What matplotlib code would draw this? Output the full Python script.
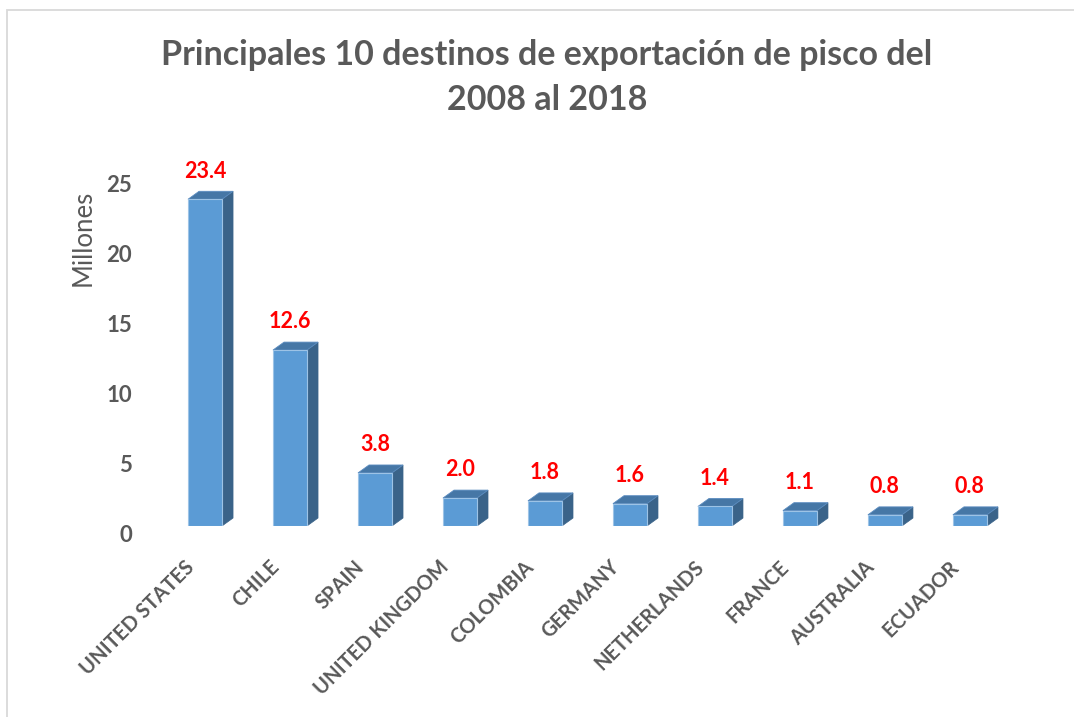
import matplotlib
matplotlib.use("Agg")
import matplotlib.pyplot as plt
from matplotlib.patches import Polygon, Rectangle
from matplotlib.transforms import ScaledTranslation

countries = ["UNITED STATES", "CHILE", "SPAIN", "UNITED KINGDOM", "COLOMBIA",
             "GERMANY", "NETHERLANDS", "FRANCE", "AUSTRALIA", "ECUADOR"]
values = [23.4, 12.6, 3.8, 2.0, 1.8, 1.6, 1.4, 1.1, 0.8, 0.8]
yticks = [0, 5, 10, 15, 20, 25]
title_lines = ["Principales 10 destinos de exportación de pisco del", "2008 al 2018"]

plt.rcParams['font.family'] = ['Lato', 'DejaVu Sans']
GRAY = "#595959"
FRONT = "#5B9BD5"
SIDE = "#3A6389"
TOP = "#4677A6"

fig = plt.figure(figsize=(10.74, 7.17), dpi=100)
W, H = 1074, 717
ax_left, ax_right = 135, 1060
ax_top, ax_bot = 149, 526
ax = fig.add_axes([ax_left / W, 1 - ax_bot / H, (ax_right - ax_left) / W, (ax_bot - ax_top) / H])

# chart frame (light gray)
fig.patches.append(Rectangle((7 / W, -0.1), 1.2, 1 - 10 / H + 0.1, transform=fig.transFigure,
                             fill=False, edgecolor="#D9D9D9", linewidth=1.3))

x = list(range(len(values)))
bw = 0.4
dx, dy = 0.13, 0.57
ax.bar(x, values, width=bw, color=FRONT, edgecolor="#9DC3E6", linewidth=0.8, zorder=3)
for xi, v in zip(x, values):
    l, r = xi - bw / 2, xi + bw / 2
    side = Polygon([(r, 0), (r + dx, dy), (r + dx, v + dy), (r, v)], closed=True,
                   facecolor=SIDE, edgecolor=SIDE, linewidth=0.5, zorder=2)
    top = Polygon([(l, v), (l + dx, v + dy), (r + dx, v + dy), (r, v)], closed=True,
                  facecolor=TOP, edgecolor="#5B8CC0", linewidth=0.6, zorder=2)
    ax.add_patch(side)
    ax.add_patch(top)
    ax.annotate(f"{v:.1f}", (xi, v + dy), xytext=(0, 7), textcoords="offset points",
                ha="center", va="bottom", color="#FF0000", fontsize=15.5, fontweight="bold")

ax.set_xlim(-(205 - ax_left) / 85, 10.06)
ax.set_ylim(0, 27)
ax.set_xticks([])
ax.set_yticks(yticks)
ax.set_yticklabels([])
ax.tick_params(axis="y", length=0)
for s in ax.spines.values():
    s.set_visible(False)

# y tick labels (slightly below their gridline position, as in the 3-D original)
ytr = ax.get_yaxis_transform() + ScaledTranslation(-3 / 100, -7 / 100, fig.dpi_scale_trans)
for t in yticks:
    ax.text(0, t, str(t), transform=ytr, ha="right", va="center_baseline",
            fontsize=16, fontweight="bold", color=GRAY)

lab_off = ScaledTranslation(-14 / 100, -38 / 100, fig.dpi_scale_trans)
for xi, c in zip(x, countries):
    ax.text(xi, 0, c, transform=ax.get_xaxis_transform() + lab_off, rotation=45,
            rotation_mode="anchor", ha="right", va="center", fontsize=14.5,
            fontweight="bold", color=GRAY)

fig.text(83 / W, 1 - 238 / H, "Millones", rotation=90, ha="center", va="center",
         fontsize=18.5, color=GRAY)
for line, yb in zip(title_lines, [65, 110]):
    fig.text(547 / W, 1 - yb / H, line, ha="center", va="baseline", fontsize=24.5,
             fontweight="bold", color=GRAY)

fig.savefig("out.png", dpi=100)
